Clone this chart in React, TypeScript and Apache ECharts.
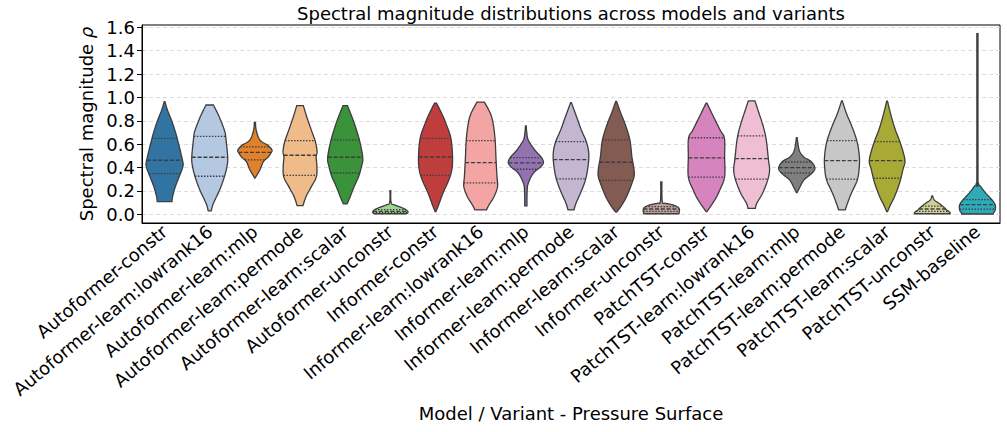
import React, { useEffect, useRef } from "react";
import * as echarts from "echarts";

const categories = [
  "Autoformer-constr",
  "Autoformer-learn:lowrank16",
  "Autoformer-learn:mlp",
  "Autoformer-learn:permode",
  "Autoformer-learn:scalar",
  "Autoformer-unconstr",
  "Informer-constr",
  "Informer-learn:lowrank16",
  "Informer-learn:mlp",
  "Informer-learn:permode",
  "Informer-learn:scalar",
  "Informer-unconstr",
  "PatchTST-constr",
  "PatchTST-learn:lowrank16",
  "PatchTST-learn:mlp",
  "PatchTST-learn:permode",
  "PatchTST-learn:scalar",
  "PatchTST-unconstr",
  "SSM-baseline",
];

// density outline of each violin: values (ascending) and relative half-widths
const profileValues: number[][] = [
  [0.108, 0.15, 0.24, 0.35, 0.41, 0.46, 0.65, 0.78, 0.89, 0.963],
  [0.028, 0.094, 0.21, 0.32, 0.41, 0.49, 0.665, 0.72, 0.835, 0.935],
  [0.308, 0.38, 0.45, 0.49, 0.536, 0.556, 0.59, 0.636, 0.72, 0.786],
  [0.074, 0.15, 0.236, 0.32, 0.41, 0.49, 0.536, 0.62, 0.72, 0.835, 0.929],
  [0.088, 0.15, 0.236, 0.32, 0.41, 0.48, 0.607, 0.72, 0.835, 0.929],
  [0.004, 0.014, 0.031, 0.051, 0.08, 0.1, 0.202],
  [0.022, 0.094, 0.18, 0.294, 0.38, 0.49, 0.65, 0.778, 0.864, 0.952],
  [0.037, 0.08, 0.15, 0.236, 0.322, 0.465, 0.636, 0.778, 0.864, 0.96],
  [0.071, 0.2, 0.265, 0.35, 0.407, 0.445, 0.493, 0.55, 0.636, 0.7, 0.757],
  [0.037, 0.094, 0.18, 0.294, 0.41, 0.52, 0.62, 0.72, 0.835, 0.955],
  [0.018, 0.065, 0.15, 0.265, 0.35, 0.493, 0.636, 0.778, 0.864, 0.967],
  [0.004, 0.037, 0.06, 0.08, 0.094, 0.11, 0.276],
  [0.022, 0.122, 0.208, 0.32, 0.49, 0.65, 0.72, 0.835, 0.952],
  [0.051, 0.094, 0.18, 0.294, 0.38, 0.465, 0.636, 0.75, 0.864, 0.97],
  [0.186, 0.236, 0.294, 0.35, 0.395, 0.45, 0.493, 0.55, 0.655],
  [0.037, 0.094, 0.18, 0.294, 0.393, 0.493, 0.62, 0.75, 0.864, 0.97],
  [0.022, 0.08, 0.15, 0.265, 0.38, 0.465, 0.607, 0.72, 0.835, 0.969],
  [0.004, 0.014, 0.037, 0.065, 0.094, 0.122, 0.157],
  [0.002, 0.01, 0.037, 0.08, 0.122, 0.18, 0.236, 0.27, 0.35, 1.545],
];

const profileWidths: number[][] = [
  [0.4, 0.43, 0.59, 0.86, 0.99, 0.97, 0.68, 0.43, 0.16, 0.02],
  [0.08, 0.2, 0.54, 0.79, 0.93, 0.97, 0.86, 0.79, 0.51, 0.2],
  [0.0, 0.27, 0.46, 0.72, 0.91, 0.9, 0.7, 0.27, 0.07, 0.03],
  [0.16, 0.32, 0.61, 0.88, 0.91, 0.87, 0.92, 0.83, 0.61, 0.36, 0.18],
  [0.1, 0.27, 0.48, 0.72, 0.88, 0.95, 0.81, 0.61, 0.36, 0.12],
  [0.86, 0.95, 0.91, 0.7, 0.22, 0.04, 0.02],
  [0.02, 0.2, 0.4, 0.72, 0.88, 0.92, 0.83, 0.56, 0.33, 0.05],
  [0.31, 0.45, 0.72, 0.91, 0.88, 0.83, 0.78, 0.67, 0.52, 0.2],
  [0.06, 0.07, 0.13, 0.4, 0.81, 0.95, 0.81, 0.48, 0.13, 0.05, 0.02],
  [0.16, 0.27, 0.51, 0.78, 0.92, 0.96, 0.83, 0.56, 0.3, 0.02],
  [0.02, 0.25, 0.56, 0.85, 0.98, 0.85, 0.74, 0.47, 0.25, 0.02],
  [0.95, 0.98, 0.9, 0.63, 0.22, 0.05, 0.03],
  [0.02, 0.45, 0.72, 0.98, 0.98, 0.97, 0.74, 0.38, 0.02],
  [0.2, 0.28, 0.59, 0.87, 0.97, 0.91, 0.79, 0.63, 0.4, 0.18],
  [0.02, 0.18, 0.39, 0.81, 0.98, 0.78, 0.36, 0.13, 0.02],
  [0.18, 0.3, 0.51, 0.83, 0.93, 0.94, 0.82, 0.54, 0.24, 0.02],
  [0.02, 0.18, 0.4, 0.67, 0.85, 0.96, 0.72, 0.45, 0.23, 0.02],
  [0.95, 0.96, 0.78, 0.59, 0.36, 0.11, 0.02],
  [0.85, 0.86, 0.96, 0.96, 0.79, 0.45, 0.18, 0.05, 0.03, 0.03],
];

const q1Values = [0.347, 0.325, 0.465, 0.333, 0.353, 0.015, 0.333, 0.268, 0.385, 0.302, 0.29, 0.025, 0.317, 0.3, 0.353, 0.3, 0.308, 0.025, 0.044];
const medianValues = [0.462, 0.488, 0.53, 0.505, 0.488, 0.025, 0.49, 0.441, 0.44, 0.467, 0.445, 0.045, 0.482, 0.476, 0.399, 0.459, 0.459, 0.045, 0.083];
const q3Values = [0.65, 0.667, 0.576, 0.63, 0.636, 0.04, 0.65, 0.63, 0.485, 0.621, 0.636, 0.065, 0.655, 0.67, 0.447, 0.63, 0.621, 0.07, 0.125];

const yTicks = [0, 0.2, 0.4, 0.6, 0.8, 1.0, 1.2, 1.4, 1.6];

const basePalette = [
  "#1f77b4", "#aec7e8", "#ff7f0e", "#ffbb78", "#2ca02c", "#98df8a", "#d62728", "#ff9896",
  "#9467bd", "#c5b0d5", "#8c564b", "#c49c94", "#e377c2", "#f7b6d2", "#7f7f7f", "#c7c7c7",
  "#bcbd22", "#dbdb8d", "#17becf",
];

const FONT = "DejaVu Sans";
const FS = 18;
const EDGE = "#3d3d3d";

function desaturate(hex: string, prop: number): string {
  const r = parseInt(hex.slice(1, 3), 16) / 255;
  const g = parseInt(hex.slice(3, 5), 16) / 255;
  const b = parseInt(hex.slice(5, 7), 16) / 255;
  const max = Math.max(r, g, b);
  const min = Math.min(r, g, b);
  const l = (max + min) / 2;
  let h = 0;
  let s = 0;
  if (max !== min) {
    const d = max - min;
    s = l > 0.5 ? d / (2 - max - min) : d / (max + min);
    if (max === r) h = (g - b) / d + (g < b ? 6 : 0);
    else if (max === g) h = (b - r) / d + 2;
    else h = (r - g) / d + 4;
    h /= 6;
  }
  s *= prop;
  const hue2rgb = (p: number, q: number, t: number) => {
    if (t < 0) t += 1;
    if (t > 1) t -= 1;
    if (t < 1 / 6) return p + (q - p) * 6 * t;
    if (t < 1 / 2) return q;
    if (t < 2 / 3) return p + (q - p) * (2 / 3 - t) * 6;
    return p;
  };
  let rr = l, gg = l, bb = l;
  if (s !== 0) {
    const q = l < 0.5 ? l * (1 + s) : l + s - l * s;
    const p = 2 * l - q;
    rr = hue2rgb(p, q, h + 1 / 3);
    gg = hue2rgb(p, q, h);
    bb = hue2rgb(p, q, h - 1 / 3);
  }
  const toHex = (x: number) => Math.round(x * 255).toString(16).padStart(2, "0");
  return "#" + toHex(rr) + toHex(gg) + toHex(bb);
}

const fillColors = basePalette.map((c) => desaturate(c, 0.75));

function sampleProfile(vals: number[], ws: number[]): number[][] {
  const n = vals.length;
  const out: number[][] = [];
  const steps = 10;
  for (let i = 0; i < n - 1; i++) {
    const i0 = Math.max(0, i - 1);
    const i3 = Math.min(n - 1, i + 2);
    for (let s = 0; s < steps; s++) {
      const t = s / steps;
      const cr = (p0: number, p1: number, p2: number, p3: number) =>
        0.5 * (2 * p1 + (-p0 + p2) * t + (2 * p0 - 5 * p1 + 4 * p2 - p3) * t * t + (-p0 + 3 * p1 - 3 * p2 + p3) * t * t * t);
      const v = cr(vals[i0], vals[i], vals[i + 1], vals[i3]);
      const w = cr(ws[i0], ws[i], ws[i + 1], ws[i3]);
      out.push([v, Math.max(0, w)]);
    }
  }
  out.push([vals[n - 1], ws[n - 1]]);
  return out;
}

function widthAt(pts: number[][], v: number): number {
  for (let i = 0; i < pts.length - 1; i++) {
    const a = pts[i];
    const b = pts[i + 1];
    if ((v >= a[0] && v <= b[0]) || (v <= a[0] && v >= b[0])) {
      const t = b[0] === a[0] ? 0 : (v - a[0]) / (b[0] - a[0]);
      return a[1] + (b[1] - a[1]) * t;
    }
  }
  return v < pts[0][0] ? pts[0][1] : pts[pts.length - 1][1];
}

export default function App() {
  const ref = useRef<HTMLDivElement>(null);
  useEffect(() => {
    if (!ref.current) return;
    const chart = echarts.init(ref.current, undefined, { renderer: "svg" });
    const samples = categories.map((_, i) => sampleProfile(profileValues[i], profileWidths[i]));

    const renderItem = (params: any, api: any) => {
      const idx = api.value(0);
      const band = api.size([1, 0])[0];
      const maxHalf = band * 0.41;
      const cx = api.coord([idx, 0])[0];
      const pts = samples[idx];
      const right = pts.map(([v, d]) => [cx + d * maxHalf, api.coord([idx, v])[1]]);
      const left = pts
        .slice()
        .reverse()
        .map(([v, d]) => [cx - d * maxHalf, api.coord([idx, v])[1]]);
      const qLine = (q: number, dash: number[]) => {
        const d = widthAt(pts, q) * maxHalf;
        const y = api.coord([idx, q])[1];
        return {
          type: "line",
          shape: { x1: cx - d, y1: y, x2: cx + d, y2: y },
          style: { stroke: EDGE, lineWidth: 1.3, lineDash: dash },
        };
      };
      return {
        type: "group",
        children: [
          {
            type: "polygon",
            shape: { points: [...right, ...left] },
            style: { fill: fillColors[idx], stroke: EDGE, lineWidth: 1.3 },
          },
          qLine(q1Values[idx], [1.5, 1.5]),
          qLine(medianValues[idx], [4, 1.8]),
          qLine(q3Values[idx], [1.5, 1.5]),
        ],
      };
    };

    chart.setOption({
      animation: false,
      backgroundColor: "#ffffff",
      textStyle: { fontFamily: FONT },
      graphic: [
        {
          type: "text",
          x: 571,
          y: 4,
          style: {
            text: "Spectral magnitude distributions across models and variants",
            font: `${FS}px "${FONT}"`,
            fill: "#000",
            align: "center",
            verticalAlign: "top",
            textAlign: "center",
            textVerticalAlign: "top",
          },
        },
      ],
      grid: {
        left: 142,
        right: 7,
        top: 25,
        bottom: 209,
        show: true,
        borderColor: "#000",
        borderWidth: 1,
        backgroundColor: "transparent",
      },
      xAxis: {
        type: "category",
        data: categories,
        boundaryGap: true,
        axisLine: { onZero: false, lineStyle: { color: "#000", width: 1 } },
        axisTick: { alignWithLabel: true, length: 5, lineStyle: { color: "#000", width: 1 } },
        axisLabel: {
          interval: 0,
          rotate: 40,
          fontSize: FS,
          color: "#000",
          fontFamily: FONT,
          margin: 6,
        },
        splitLine: { show: false },
        name: "Model / Variant - Pressure Surface",
        nameLocation: "middle",
        nameGap: 181,
        nameTextStyle: { fontSize: FS, color: "#000", fontFamily: FONT },
      },
      yAxis: {
        type: "value",
        min: -0.075,
        max: 1.62,
        minInterval: 0.2,
        maxInterval: 0.2,
        axisLine: { show: true, lineStyle: { color: "#000", width: 1 } },
        axisTick: { show: true, length: 5, customValues: yTicks, lineStyle: { color: "#000", width: 1 } },
        axisLabel: {
          customValues: yTicks,
          formatter: (v: number) => v.toFixed(1),
          fontSize: FS,
          color: "#000",
          fontFamily: FONT,
          margin: 7,
        },
        splitLine: { show: true, lineStyle: { color: "#d4d4d4", width: 0.8, type: [4, 3] } },
        name: "Spectral magnitude {i|ρ}",
        nameLocation: "middle",
        nameGap: 32,
        nameTextStyle: {
          fontSize: FS,
          color: "#000",
          fontFamily: FONT,
          rich: { i: { fontStyle: "italic", fontSize: FS, fontFamily: FONT, color: "#000" } },
        },
      },
      series: [
        {
          type: "custom",
          renderItem,
          encode: { x: 0, y: 1 },
          data: categories.map((_, i) => [i, 0]),
          clip: false,
        },
      ],
    });
    return () => chart.dispose();
  }, []);
  return <div ref={ref} style={{ position: "fixed", left: 0, top: 0, width: 1007, height: 432 }} />;
}
